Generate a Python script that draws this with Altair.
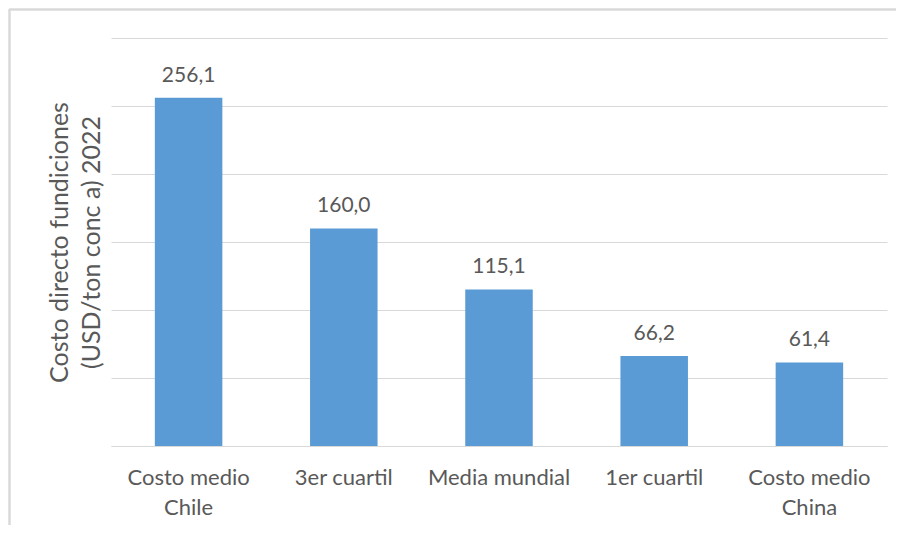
import altair as alt
import pandas as pd

categories = ["Costo medio\nChile", "3er cuartil", "Media mundial", "1er cuartil", "Costo medio\nChina"]
values = [256.1, 160.0, 115.1, 66.2, 61.4]
labels = [f"{v:.1f}".replace(".", ",") for v in values]
grid_values = [0, 50, 100, 150, 200, 250, 300]

df = pd.DataFrame({"cat": categories, "val": values, "lab": labels})

FONT = "Lato"
TXT = "#595959"
GRID = "#d9d9d9"
W, H = 776, 408

x = alt.X("cat:N", sort=categories,
          scale=alt.Scale(paddingInner=0.565, paddingOuter=0.2825),
          axis=alt.Axis(title=None, labelAngle=0, ticks=False, domainColor=GRID, domainWidth=1.2,
                        labelExpr="split(datum.label, '\\n')", labelLineHeight=30,
                        labelFont=FONT, labelFontSize=22, labelColor=TXT, labelPadding=21))
y = alt.Y("val:Q", scale=alt.Scale(domain=[0, 300], nice=False),
          axis=alt.Axis(values=grid_values, labels=False, ticks=False, domain=False,
                        grid=True, gridColor=GRID, gridWidth=1.2,
                        title=["Costo directo fundiciones", "(USD/ton conc a) 2022"],
                        titleFont=FONT, titleFontSize=25, titleFontWeight="normal", titleColor=TXT,
                        titleLineHeight=32, titlePadding=7))

bars = alt.Chart(df).mark_bar(color="#5B9BD5").encode(x=x, y=y)
text = alt.Chart(df).mark_text(dy=-22, font=FONT, fontSize=21, color=TXT).encode(
    x=alt.X("cat:N", sort=categories), y="val:Q", text="lab:N")

frame_top = alt.Chart(df).mark_rule(color=GRID, strokeWidth=1.5).encode(
    x=alt.value(-102), x2=alt.value(W + 120), y=alt.value(-28.5))
frame_left = alt.Chart(df).mark_rule(color=GRID, strokeWidth=1.5).encode(
    x=alt.value(-101.5), y=alt.value(-29), y2=alt.value(H + 120))

chart = alt.layer(bars, text, frame_top, frame_left).properties(
    width=W, height=H,
    autosize=alt.AutoSizeParams(type="none"),
    padding={"left": 103, "top": 30, "right": 9, "bottom": 79},
).configure_view(stroke=None)

chart.save("out.html", embed_options={"renderer": "svg", "actions": False})
